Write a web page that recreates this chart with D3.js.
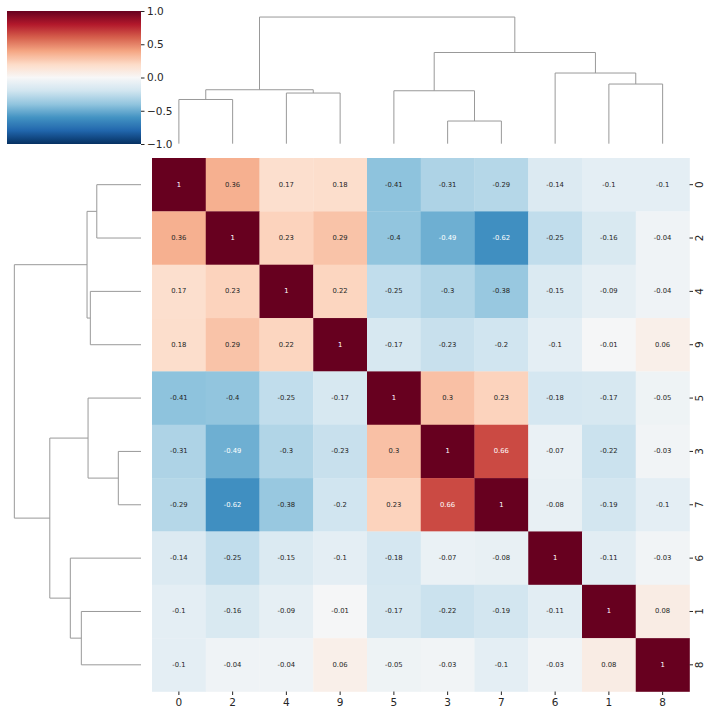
<!DOCTYPE html>
<html>
<head>
<meta charset="utf-8">
<script src="https://cdn.jsdelivr.net/npm/d3@7"></script>
<style>
  html, body { margin: 0; padding: 0; background: #fff; }
  svg { display: block; font-family: "DejaVu Sans", sans-serif; }
</style>
</head>
<body>
<svg id="chart" width="712" height="716"></svg>
<script>
// ---- data ----
const labels = ["0", "2", "4", "9", "5", "3", "7", "6", "1", "8"];
const row0 = [1, 0.36, 0.17, 0.18, -0.41, -0.31, -0.29, -0.14, -0.1, -0.1];
const row2 = [0.36, 1, 0.23, 0.29, -0.4, -0.49, -0.62, -0.25, -0.16, -0.04];
const row4 = [0.17, 0.23, 1, 0.22, -0.25, -0.3, -0.38, -0.15, -0.09, -0.04];
const row9 = [0.18, 0.29, 0.22, 1, -0.17, -0.23, -0.2, -0.1, -0.01, 0.06];
const row5 = [-0.41, -0.4, -0.25, -0.17, 1, 0.3, 0.23, -0.18, -0.17, -0.05];
const row3 = [-0.31, -0.49, -0.3, -0.23, 0.3, 1, 0.66, -0.07, -0.22, -0.03];
const row7 = [-0.29, -0.62, -0.38, -0.2, 0.23, 0.66, 1, -0.08, -0.19, -0.1];
const row6 = [-0.14, -0.25, -0.15, -0.1, -0.18, -0.07, -0.08, 1, -0.11, -0.03];
const row1 = [-0.1, -0.16, -0.09, -0.01, -0.17, -0.22, -0.19, -0.11, 1, 0.08];
const row8 = [-0.1, -0.04, -0.04, 0.06, -0.05, -0.03, -0.1, -0.03, 0.08, 1];
const matrix = [row0, row2, row4, row9, row5, row3, row7, row6, row1, row8];

// linkage: [childA, childB, height]; leaves are 0..9 (display positions), new clusters 10..18
const linkA = [5, 0, 2, 4, 11, 8, 7, 13, 14];
const linkB = [6, 1, 3, 10, 12, 9, 15, 16, 17];
const linkH = [0.179, 0.349, 0.400, 0.418, 0.426, 0.471, 0.558, 0.72, 1.0];

const cbarTicks = [1.0, 0.5, 0.0, -0.5, -1.0];

// RdBu_r colormap (matplotlib anchors, low -> high)
const rdbuR = ["#053061", "#2166ac", "#4393c3", "#92c5de", "#d1e5f0", "#f7f7f7",
               "#fddbc7", "#f4a582", "#d6604d", "#b2182b", "#67001f"];

// ---- scales ----
const svg = d3.select("#chart");
const n = labels.length;
const x = d3.scaleBand().domain(d3.range(n)).range([152, 689.5]);
const y = d3.scaleBand().domain(d3.range(n)).range([158, 691.5]);
const color = d3.scaleLinear()
  .domain(d3.range(11).map(i => -1 + i * 0.2))
  .range(rdbuR)
  .interpolate(d3.interpolateRgb)
  .clamp(true);

function lum(c) {
  const rgb = d3.rgb(c);
  const f = v => { v /= 255; return v <= 0.03928 ? v / 12.92 : Math.pow((v + 0.055) / 1.055, 2.4); };
  return 0.2126 * f(rgb.r) + 0.7152 * f(rgb.g) + 0.0722 * f(rgb.b);
}

// ---- heatmap ----
const cells = [];
matrix.forEach((r, i) => r.forEach((v, j) => cells.push({ i, j, v })));
const hm = svg.append("g");
hm.selectAll("rect").data(cells).join("rect")
  .attr("x", d => x(d.j)).attr("y", d => y(d.i))
  .attr("width", x.bandwidth() + 0.3).attr("height", y.bandwidth() + 0.3)
  .attr("fill", d => color(d.v));
hm.selectAll("text").data(cells).join("text")
  .attr("x", d => x(d.j) + x.bandwidth() / 2)
  .attr("y", d => y(d.i) + y.bandwidth() / 2)
  .attr("text-anchor", "middle").attr("dominant-baseline", "central")
  .attr("font-size", 6.8)
  .attr("fill", d => lum(color(d.v)) > 0.408 ? "#262626" : "#ffffff")
  .text(d => String(d.v));

// ---- axes ----
const xAxis = svg.append("g").attr("transform", "translate(0,691.5)")
  .call(d3.axisBottom(x).tickFormat(i => labels[i]).tickSize(3.5).tickPadding(4));
xAxis.select(".domain").remove();
xAxis.selectAll("line").attr("stroke", "#262626");
xAxis.selectAll("text").attr("font-size", 10.5).attr("fill", "#262626")
  .attr("font-family", "DejaVu Sans");

const yAxis = svg.append("g").attr("transform", "translate(689.5,0)")
  .call(d3.axisRight(y).tickFormat(i => labels[i]).tickSize(3.5));
yAxis.select(".domain").remove();
yAxis.selectAll("line").attr("stroke", "#262626");
yAxis.selectAll("text")
  .attr("x", 0).attr("dy", null)
  .attr("transform", "translate(13,0) rotate(-90)")
  .attr("text-anchor", "middle").attr("dominant-baseline", "auto")
  .attr("font-size", 10.5).attr("fill", "#262626")
  .attr("font-family", "DejaVu Sans");

// ---- dendrograms ----
const maxH = d3.max(linkH);
const topH = d3.scaleLinear().domain([0, 1.05 * maxH]).range([143.7, 10.7]);
const leftH = d3.scaleLinear().domain([0, 1.05 * maxH]).range([141, 8]);

function buildTree(posFn) {
  const pos = {}, hgt = {};
  for (let i = 0; i < n; i++) { pos[i] = posFn(i); hgt[i] = 0; }
  const segs = [];
  linkH.forEach((h, k) => {
    const a = linkA[k], b = linkB[k], id = n + k;
    segs.push({ pa: pos[a], ha: hgt[a], pb: pos[b], hb: hgt[b], h });
    pos[id] = (pos[a] + pos[b]) / 2;
    hgt[id] = h;
  });
  return segs;
}

const topSegs = buildTree(i => x(i) + x.bandwidth() / 2);
svg.append("g").selectAll("path").data(topSegs).join("path")
  .attr("d", s => `M${s.pa},${topH(s.ha)}V${topH(s.h)}H${s.pb}V${topH(s.hb)}`)
  .attr("fill", "none").attr("stroke", "#999").attr("stroke-width", 1);

const leftSegs = buildTree(i => y(i) + y.bandwidth() / 2);
svg.append("g").selectAll("path").data(leftSegs).join("path")
  .attr("d", s => `M${leftH(s.ha)},${s.pa}H${leftH(s.h)}V${s.pb}H${leftH(s.hb)}`)
  .attr("fill", "none").attr("stroke", "#999").attr("stroke-width", 1);

// ---- colorbar ----
const cb = d3.scaleLinear().domain([-1, 1]).range([144, 11]);
const defs = svg.append("defs");
const grad = defs.append("linearGradient").attr("id", "cbgrad")
  .attr("x1", 0).attr("y1", 1).attr("x2", 0).attr("y2", 0);
grad.selectAll("stop").data(d3.range(0, 1.0001, 0.02)).join("stop")
  .attr("offset", t => t).attr("stop-color", t => color(-1 + 2 * t));
svg.append("rect").attr("x", 7).attr("y", cb(1)).attr("width", 134)
  .attr("height", cb(-1) - cb(1)).attr("fill", "url(#cbgrad)");
const cbAxis = svg.append("g").attr("transform", "translate(141,0)")
  .call(d3.axisRight(cb).tickValues(cbarTicks).tickFormat(d3.format(".1f")).tickSize(3.5).tickPadding(2.5));
cbAxis.select(".domain").remove();
cbAxis.selectAll("line").attr("stroke", "#262626");
cbAxis.selectAll("text").attr("font-size", 10.5).attr("fill", "#262626")
  .attr("font-family", "DejaVu Sans");
</script>
</body>
</html>
